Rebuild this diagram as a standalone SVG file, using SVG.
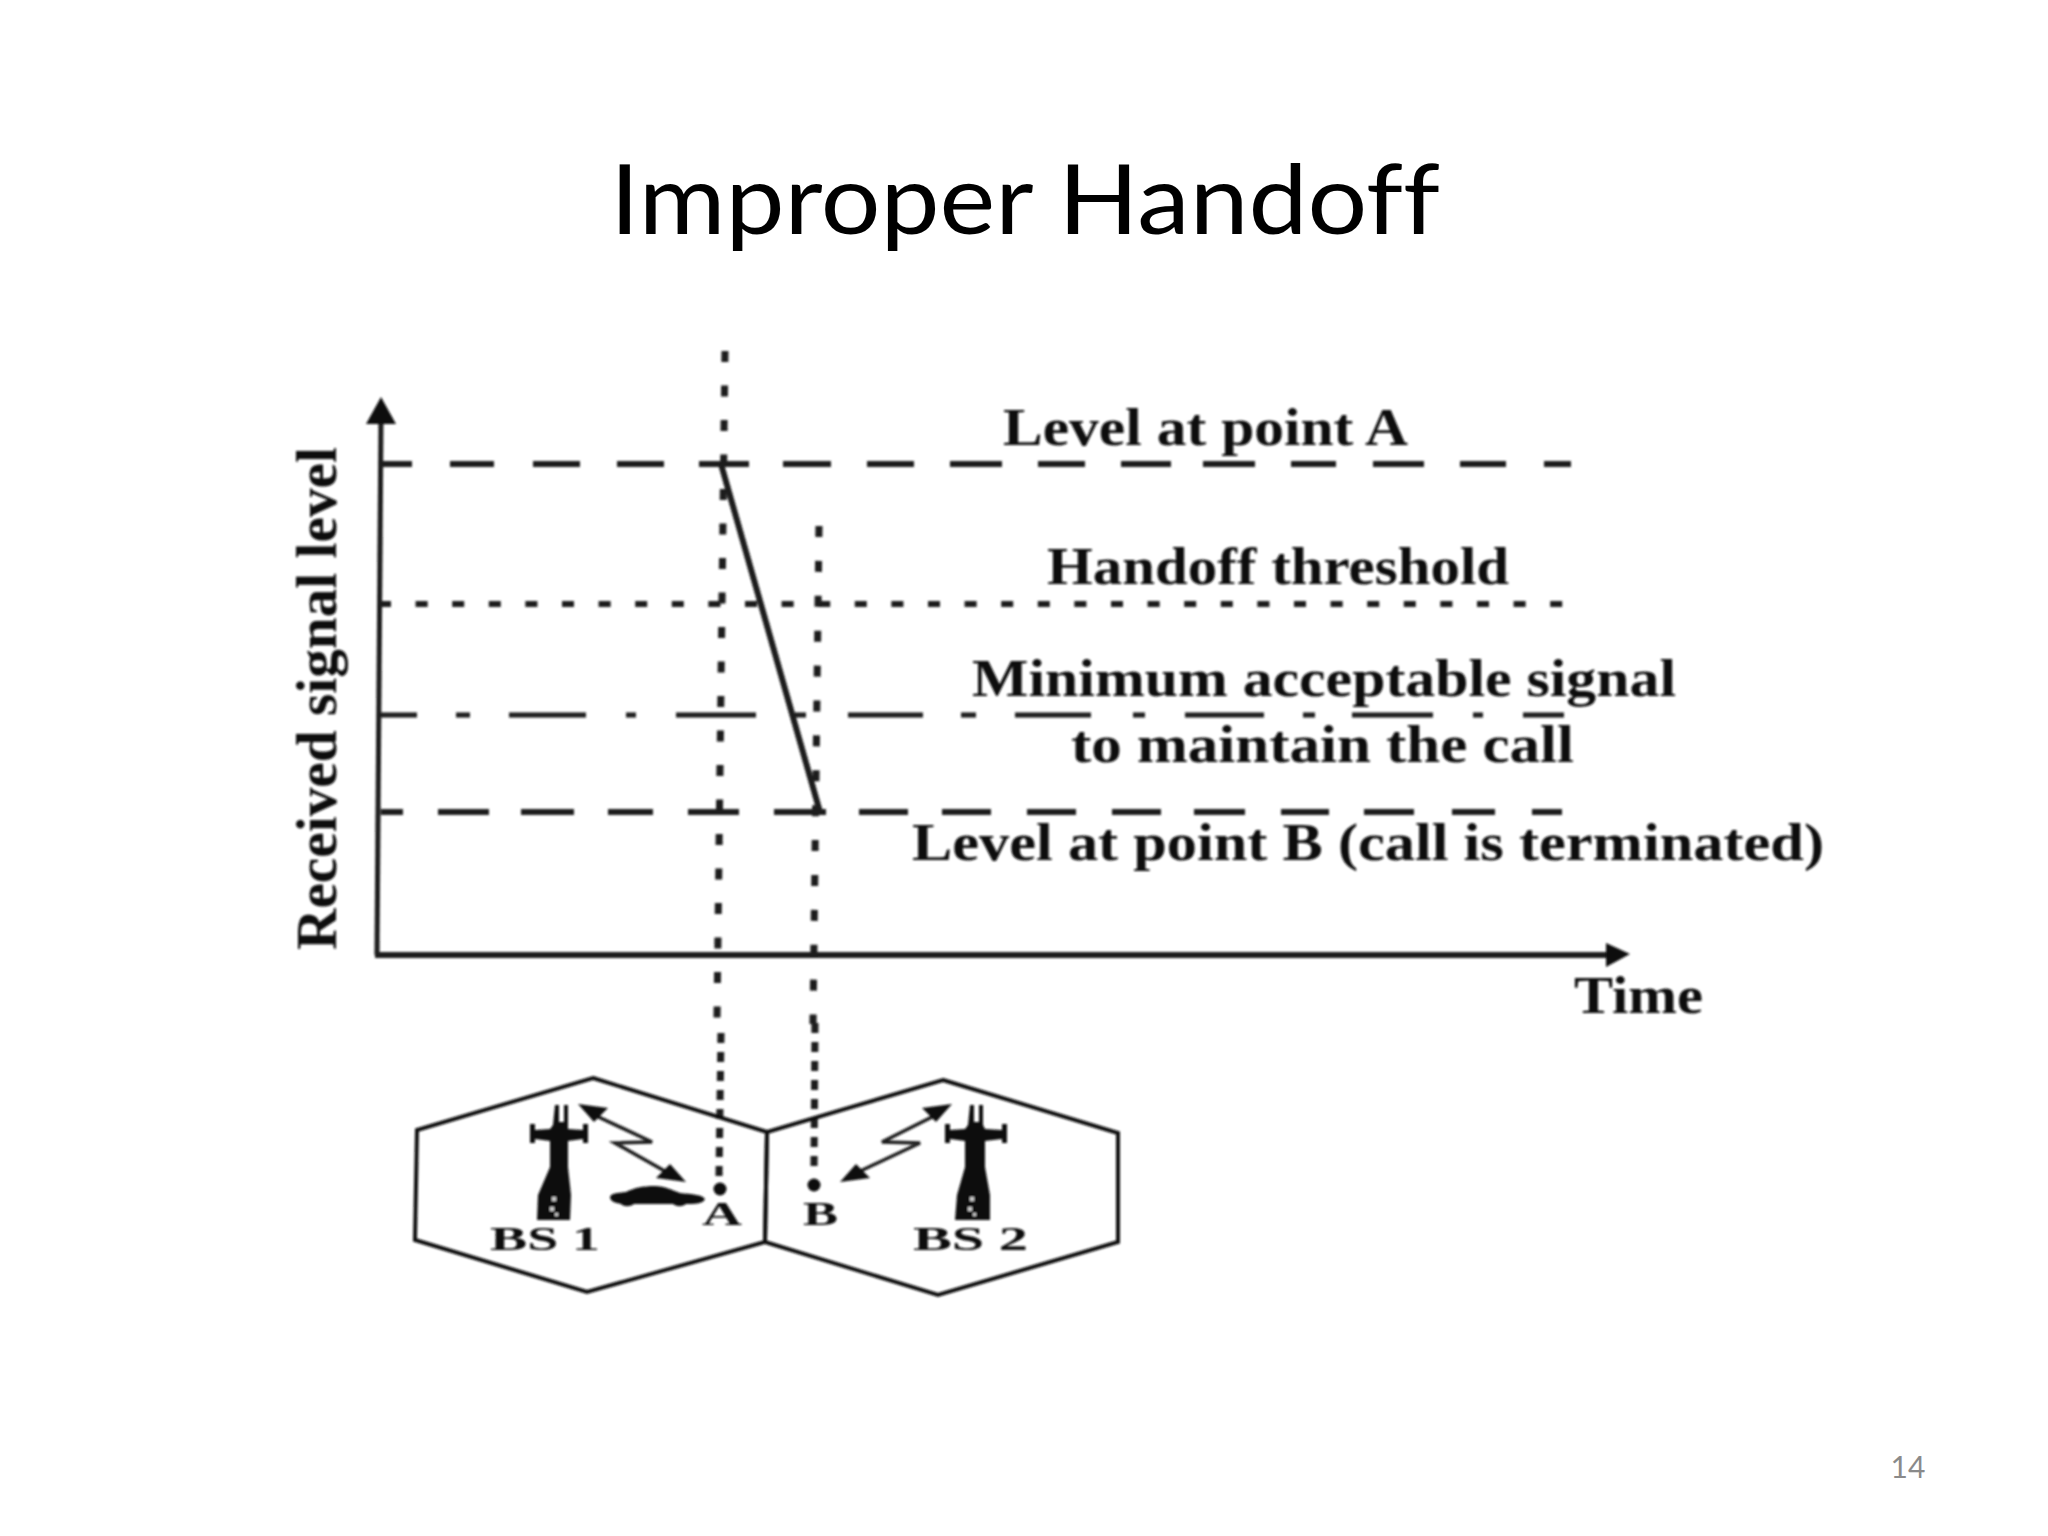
<svg xmlns="http://www.w3.org/2000/svg" width="2048" height="1536" viewBox="0 0 2048 1536">
<defs>
<style>
.t{font-family:"Liberation Serif","Times New Roman",serif;font-weight:700;fill:#111;font-size:52px}
.s{font-family:"Liberation Serif","Times New Roman",serif;font-weight:700;fill:#111;font-size:34px}
.d{fill:none;stroke:#1a1a1a}
.h{fill:none;stroke:#111;stroke-width:4}
</style>
<filter id="b" x="-5%" y="-5%" width="110%" height="110%"><feGaussianBlur stdDeviation="0.8"/></filter>
</defs>
<rect width="2048" height="1536" fill="#fff"/>
<text id="title" x="1025" y="234" text-anchor="middle" textLength="830" lengthAdjust="spacingAndGlyphs" font-family="Lato,'Open Sans',sans-serif" font-size="97" fill="#000" style="font-variant-ligatures:none">Improper Handoff</text>
<text id="page" x="1908" y="1478" text-anchor="middle" font-family="Lato,'Open Sans',sans-serif" font-size="30" fill="#8a8a8a">14</text>
<g filter="url(#b)">
<g id="connectors">
<path id="y-axis" d="M381 415L377 955" class="d" stroke-width="5"/>
<path d="M381 397L396 424L366 424Z" fill="#111"/>
<path id="x-axis" d="M375 955H1610" class="d" stroke-width="6"/>
<path d="M1630 954L1606 943V967Z" fill="#111"/>
<path id="level-a" class="d" stroke-width="6" d="M382 464H412M450 464H494M533 464H580M617 464H664M699 464H749M783 464H831M867 464H914M950 464H1002M1038 464H1085M1121 464H1171M1203 464H1255M1291 464H1336M1373 464H1424M1460 464H1506M1544 464H1571"/>
<path id="handoff-threshold" class="d" stroke-width="6" stroke-dasharray="12 24.6" d="M379 604H1567"/>
<path id="min-level" class="d" stroke-width="5" d="M380 715H417M456 715H470M509 715H586M626 715H636M676 715H756M795 715H806M848 715H923M961 715H976M1015 715H1091M1133 715H1145M1185 715H1264M1303 715H1315M1352 715H1433M1473 715H1483M1523 715H1564"/>
<path id="level-b" class="d" stroke="#333" stroke-width="6" d="M381 812H403M438 812H489M521 812H574M608 812H653M688 812H739M774 812H826M859 812H908M942 812H991M1027 812H1076M1112 812H1161M1194 812H1245M1281 812H1329M1364 812H1414M1452 812H1495M1532 812H1562"/>
<path id="signal" d="M721 464L820 812" class="d" stroke-width="6"/>
<path id="dots-a" class="d" stroke-width="7" stroke-dasharray="11 23.5" d="M725 351L717 1018"/>
<path id="dots-a2" class="d" stroke-width="7" stroke-dasharray="10 9" d="M721 1033L719 1177"/>
<path id="dots-b" class="d" stroke-width="7" stroke-dasharray="11 23.9" d="M819 526L813 1024"/>
<path id="dots-b2" class="d" stroke-width="7" stroke-dasharray="10 9" d="M815 1023L814 1168"/>
</g>
<g id="cell-1">
<path class="h" d="M593 1078L767 1132L765 1242L587 1292L415 1240L417 1130Z"/>
<text class="s" x="490" y="1250" textLength="110" lengthAdjust="spacingAndGlyphs">BS 1</text>
</g>
<g id="cell-2">
<path class="h" d="M943 1080L1118 1133L1118 1242L938 1295L765 1242L767 1132Z"/>
<text class="s" x="913" y="1250" textLength="115" lengthAdjust="spacingAndGlyphs">BS 2</text>
</g>
<g id="tower-1" fill="#111">
<path d="M555 1105H559V1122H564V1105H568V1125L568 1129L583 1130V1124H588V1143H583V1139L568 1141L568 1167L571 1195L570 1220H537L538 1195L550 1167L550 1141L535 1139V1143H530V1124H535V1130L550 1129L553 1125Z"/>
<g fill="#ccc"><rect x="552" y="1197" width="4" height="4"/><rect x="550" y="1207" width="4" height="4"/><rect x="555" y="1213" width="3" height="3"/></g>
</g>
<g id="tower-2" fill="#111">
<path d="M970 1105H974V1122H979V1105H983V1125L985 1129L1002 1130V1124H1007V1143H1002V1139L985 1141L985 1167L990 1195L990 1220H955L957 1195L965 1167L965 1141L950 1139V1143H945V1124H950V1130L965 1129L968 1125Z"/>
<g fill="#ccc"><rect x="970" y="1197" width="4" height="4"/><rect x="968" y="1207" width="4" height="4"/><rect x="973" y="1213" width="3" height="3"/></g>
</g>
<g id="link-1">
<path class="d" stroke-width="3.5" d="M590 1113L652 1142L615 1143L670 1174"/>
<path d="M578 1104L608 1108L594 1122Z" fill="#111"/><path d="M686 1182L656 1178L670 1164Z" fill="#111"/>
</g>
<g id="link-2">
<path class="d" stroke-width="3.5" d="M938 1114L882 1142L920 1143L854 1174"/>
<path d="M952 1104L922 1108L936 1122Z" fill="#111"/><path d="M840 1182L870 1178L856 1164Z" fill="#111"/>
</g>
<g id="car">
<path fill="#111" d="M610 1197C611 1193 618 1193 626 1192C634 1188 642 1186 655 1186C665 1186 672 1190 680 1193C692 1194 703 1195 705 1199C703 1204 694 1204 686 1204C682 1207 677 1207 673 1204H634C630 1207 624 1207 621 1204C615 1203 610 1201 610 1197Z"/>
</g>
<g id="point-a"><circle cx="720" cy="1189" r="6.5" fill="#111"/><text class="s" x="702" y="1225" textLength="40" lengthAdjust="spacingAndGlyphs">A</text></g>
<g id="point-b"><circle cx="814" cy="1185" r="6.5" fill="#111"/><text class="s" x="803" y="1225" textLength="35" lengthAdjust="spacingAndGlyphs">B</text></g>
<g id="labels">
<text class="t" x="1003" y="445" textLength="405" lengthAdjust="spacingAndGlyphs">Level at point A</text>
<text class="t" x="1047" y="584" textLength="462" lengthAdjust="spacingAndGlyphs">Handoff threshold</text>
<text class="t" x="972" y="696" textLength="704" lengthAdjust="spacingAndGlyphs">Minimum acceptable signal</text>
<text class="t" x="1071" y="762" textLength="503" lengthAdjust="spacingAndGlyphs">to maintain the call</text>
<text class="t" x="912" y="860" textLength="912" lengthAdjust="spacingAndGlyphs">Level at point B (call is terminated)</text>
<text class="t" x="1574" y="1013" textLength="129" lengthAdjust="spacingAndGlyphs">Time</text>
<text class="t" style="font-size:58px" transform="translate(336 950) rotate(-90)" textLength="503" lengthAdjust="spacingAndGlyphs">Received signal level</text>
</g>
</g>
</svg>
